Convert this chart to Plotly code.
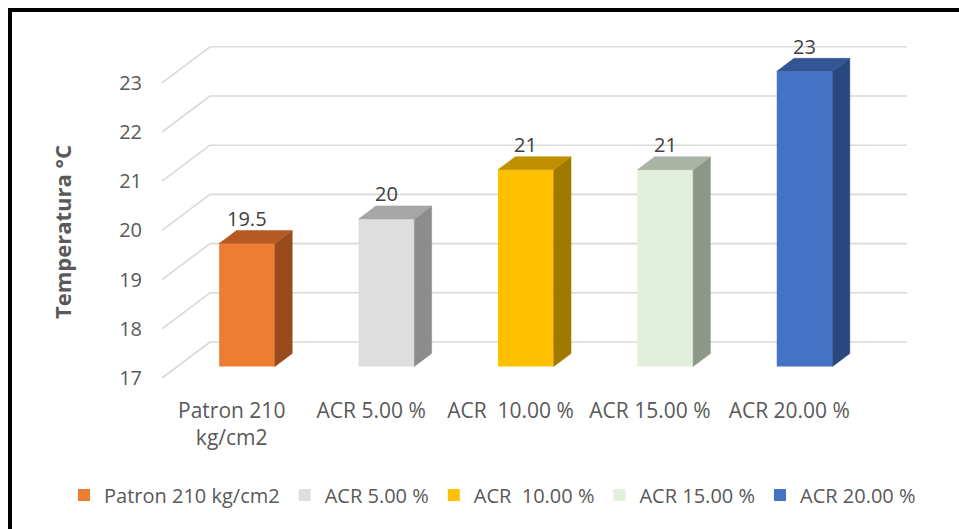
import plotly.graph_objects as go

# ---- data ----
categories = ["Patron 210 kg/cm2", "ACR 5.00 %", "ACR  10.00 %", "ACR 15.00 %", "ACR 20.00 %"]
axis_labels = ["Patron 210<br>kg/cm2", "ACR 5.00 %", "ACR  10.00 %", "ACR 15.00 %", "ACR 20.00 %"]
temperatures = [19.5, 20, 21, 21, 23]
y_ticks = [17, 18, 19, 20, 21, 22, 23]

# face colours per bar: front, top, side
front_colors = ["#ED7D31", "#DFDEDF", "#FFC000", "#E2EFDA", "#4472C4"]
top_colors = ["#B55A22", "#A6A6A6", "#C09000", "#AAB4A4", "#335594"]
side_colors = ["#9A4B1C", "#8C8C8C", "#A07900", "#8D9788", "#2A4780"]

# ---- pseudo-3D projection settings ----
W, H = 959, 529
PX_CAT = 139.4          # pixels per category on the front plane
PX_UNIT = 49.2          # pixels per degree
ORIGIN = (162, 378)     # front-left floor corner (category -0.5, value 17)
DEPTH_PX = (48, 36)     # screen shift of the full depth (right, up)
BASE = 17
DX = DEPTH_PX[0] / PX_CAT   # depth shift in category units
DY = DEPTH_PX[1] / PX_UNIT  # depth shift in value units
D_FRONT, D_BACK = 0.32, 0.68  # depth range occupied by the bars
BAR_W = 0.40

m_l, m_r, m_t, m_b = 148, 45, 29, 141
plot_w, plot_h = W - m_l - m_r, H - m_t - m_b
x0 = -0.5 - (ORIGIN[0] - m_l) / PX_CAT
x1 = x0 + plot_w / PX_CAT
y0 = BASE - ((H - m_b) - ORIGIN[1]) / PX_UNIT
y1 = y0 + plot_h / PX_UNIT

FONT = "Open Sans"
TXT = "#595959"


def proj(c, v, d):
    return c + d * DX, v + d * DY


def paper_x(px):
    return (px - m_l) / plot_w


def paper_y(py):
    return (H - m_b - py) / plot_h


fig = go.Figure()

# front faces as real bars (these also feed the legend)
for i, (name, val) in enumerate(zip(categories, temperatures)):
    cx, vb = proj(i, BASE, D_FRONT)
    fig.add_trace(go.Bar(
        x=[cx], y=[val - BASE], base=[vb], width=BAR_W, name=name,
        marker=dict(color=front_colors[i], line=dict(width=0)),
        hoverinfo="skip",
    ))

# side and top faces
for i, val in enumerate(temperatures):
    l, r = i - BAR_W / 2, i + BAR_W / 2
    side = [proj(r, BASE, D_FRONT), proj(r, BASE, D_BACK), proj(r, val, D_BACK), proj(r, val, D_FRONT)]
    top = [proj(l, val, D_FRONT), proj(r, val, D_FRONT), proj(r, val, D_BACK), proj(l, val, D_BACK)]
    for poly, col in ((side, side_colors[i]), (top, top_colors[i])):
        xs = [p[0] for p in poly] + [poly[0][0]]
        ys = [p[1] for p in poly] + [poly[0][1]]
        fig.add_trace(go.Scatter(
            x=xs, y=ys, mode="lines", fill="toself", fillcolor=col,
            line=dict(width=0.5, color=col), showlegend=False, hoverinfo="skip",
        ))
    lx, ly = proj(i, val, D_FRONT)
    _, top_back = proj(i, val, D_BACK)
    fig.add_annotation(
        x=lx, y=top_back, text=f"{val:g}", showarrow=False, yanchor="middle", yshift=12,
        font=dict(family=FONT, size=20, color="#404040"),
    )

# walls: back gridlines and side-wall diagonals
grid = dict(color="#D9D9D9", width=1.6)
for t in y_ticks:
    bl = proj(-0.5, t, 1)
    br = proj(len(categories) - 0.5, t, 1)
    fl = proj(-0.5, t, 0)
    fig.add_shape(type="line", xref="x", yref="y", x0=bl[0], y0=bl[1], x1=br[0], y1=br[1],
                  line=grid, layer="below")
    fig.add_shape(type="line", xref="x", yref="y", x0=fl[0], y0=fl[1], x1=bl[0], y1=bl[1],
                  line=grid, layer="below")

# y axis title
fig.add_annotation(
    xref="paper", yref="paper", x=paper_x(62), y=paper_y(232),
    text="<b>Temperatura °C</b>", textangle=-90, showarrow=False,
    font=dict(family=FONT, size=22, color=TXT),
    xanchor="center", yanchor="middle",
)

# outer frame (left and top edges visible)
fig.add_shape(type="rect", xref="paper", yref="paper",
              x0=paper_x(10), x1=1.5, y0=-1.0, y1=paper_y(10),
              line=dict(color="black", width=4), layer="above")

fig.update_layout(
    width=W, height=H, autosize=False,
    margin=dict(l=m_l, r=m_r, t=m_t, b=m_b, pad=0, autoexpand=False),
    paper_bgcolor="white", plot_bgcolor="white",
    barmode="overlay", showlegend=True,
    font=dict(family=FONT, size=20, color=TXT),
    xaxis=dict(range=[x0, x1], tickvals=list(range(len(categories))), ticktext=axis_labels,
               showgrid=False, zeroline=False, showline=False, ticks="",
               ticklabelstandoff=8, tickfont=dict(size=21, color=TXT)),
    yaxis=dict(range=[y0, y1], tickvals=y_ticks, showgrid=False, zeroline=False,
               showline=False, ticks="", ticklabelstandoff=5,
               tickfont=dict(size=20, color=TXT)),
    legend=dict(orientation="h", x=paper_x(64), y=paper_y(495),
                xanchor="left", yanchor="middle",
                font=dict(size=20, color=TXT), itemclick=False),
)

fig.write_html("out.html")
